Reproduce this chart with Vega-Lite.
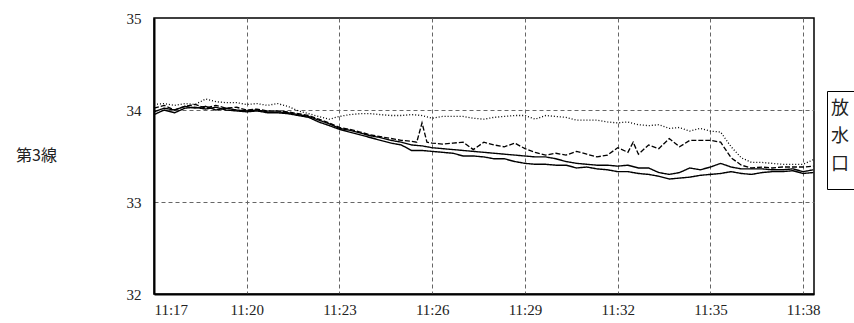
{
  "$schema": "https://vega.github.io/schema/vega-lite/v6.json",
  "width": 660,
  "height": 276,
  "autosize": {"type": "none"},
  "padding": {"left": 154, "top": 18, "right": 40, "bottom": 29},
  "background": "white",
  "config": {
    "view": {"stroke": "black", "strokeWidth": 1.5},
    "axis": {"labelFont": "Liberation Serif", "labelFontSize": 15, "labelColor": "#222", "domainColor": "black", "domainWidth": 2, "ticks": false, "gridColor": "#666", "gridDash": [4, 3], "gridWidth": 1}
  },
  "data": {
    "values": [
      {"t":17.00,"s":"a","v":34.06},{"t":17.33,"s":"a","v":34.07},{"t":17.67,"s":"a","v":34.05},{"t":18.00,"s":"a","v":34.07},{"t":18.33,"s":"a","v":34.06},{"t":18.67,"s":"a","v":34.12},{"t":19.00,"s":"a","v":34.09},{"t":19.33,"s":"a","v":34.08},{"t":19.67,"s":"a","v":34.08},{"t":20.00,"s":"a","v":34.06},{"t":20.33,"s":"a","v":34.07},{"t":20.67,"s":"a","v":34.05},{"t":21.00,"s":"a","v":34.07},{"t":21.33,"s":"a","v":34.04},{"t":21.67,"s":"a","v":33.99},{"t":22.00,"s":"a","v":33.96},{"t":22.33,"s":"a","v":33.93},{"t":22.67,"s":"a","v":33.90},{"t":23.00,"s":"a","v":33.93},{"t":23.33,"s":"a","v":33.95},{"t":23.67,"s":"a","v":33.96},{"t":24.00,"s":"a","v":33.96},{"t":24.33,"s":"a","v":33.95},{"t":24.67,"s":"a","v":33.94},{"t":25.00,"s":"a","v":33.94},{"t":25.33,"s":"a","v":33.95},{"t":25.67,"s":"a","v":33.94},{"t":26.00,"s":"a","v":33.91},{"t":26.33,"s":"a","v":33.93},{"t":26.67,"s":"a","v":33.93},{"t":27.00,"s":"a","v":33.93},{"t":27.33,"s":"a","v":33.91},{"t":27.67,"s":"a","v":33.90},{"t":28.00,"s":"a","v":33.92},{"t":28.33,"s":"a","v":33.93},{"t":28.67,"s":"a","v":33.94},{"t":29.00,"s":"a","v":33.94},{"t":29.33,"s":"a","v":33.90},{"t":29.67,"s":"a","v":33.94},{"t":30.00,"s":"a","v":33.93},{"t":30.33,"s":"a","v":33.92},{"t":30.67,"s":"a","v":33.89},{"t":31.00,"s":"a","v":33.89},{"t":31.33,"s":"a","v":33.89},{"t":31.67,"s":"a","v":33.87},{"t":32.00,"s":"a","v":33.86},{"t":32.33,"s":"a","v":33.87},{"t":32.67,"s":"a","v":33.84},{"t":33.00,"s":"a","v":33.83},{"t":33.33,"s":"a","v":33.84},{"t":33.67,"s":"a","v":33.80},{"t":34.00,"s":"a","v":33.81},{"t":34.33,"s":"a","v":33.77},{"t":34.67,"s":"a","v":33.80},{"t":35.00,"s":"a","v":33.77},{"t":35.33,"s":"a","v":33.76},{"t":35.67,"s":"a","v":33.60},{"t":36.00,"s":"a","v":33.48},{"t":36.33,"s":"a","v":33.43},{"t":36.67,"s":"a","v":33.43},{"t":37.00,"s":"a","v":33.42},{"t":37.33,"s":"a","v":33.41},{"t":37.67,"s":"a","v":33.41},{"t":38.00,"s":"a","v":33.41},{"t":38.33,"s":"a","v":33.46},
      {"t":17.00,"s":"b","v":34.02},{"t":17.33,"s":"b","v":34.05},{"t":17.67,"s":"b","v":34.00},{"t":18.00,"s":"b","v":34.04},{"t":18.33,"s":"b","v":34.06},{"t":18.67,"s":"b","v":34.02},{"t":19.00,"s":"b","v":34.05},{"t":19.33,"s":"b","v":34.02},{"t":19.67,"s":"b","v":34.03},{"t":20.00,"s":"b","v":34.00},{"t":20.33,"s":"b","v":34.01},{"t":20.67,"s":"b","v":33.99},{"t":21.00,"s":"b","v":33.99},{"t":21.33,"s":"b","v":33.98},{"t":21.67,"s":"b","v":33.96},{"t":22.00,"s":"b","v":33.94},{"t":22.33,"s":"b","v":33.90},{"t":22.67,"s":"b","v":33.86},{"t":23.00,"s":"b","v":33.81},{"t":23.33,"s":"b","v":33.79},{"t":23.67,"s":"b","v":33.76},{"t":24.00,"s":"b","v":33.73},{"t":24.33,"s":"b","v":33.71},{"t":24.67,"s":"b","v":33.69},{"t":25.00,"s":"b","v":33.67},{"t":25.33,"s":"b","v":33.66},{"t":25.50,"s":"b","v":33.65},{"t":25.67,"s":"b","v":33.86},{"t":25.83,"s":"b","v":33.65},{"t":26.00,"s":"b","v":33.64},{"t":26.33,"s":"b","v":33.63},{"t":26.67,"s":"b","v":33.64},{"t":27.00,"s":"b","v":33.65},{"t":27.33,"s":"b","v":33.57},{"t":27.67,"s":"b","v":33.65},{"t":28.00,"s":"b","v":33.62},{"t":28.33,"s":"b","v":33.60},{"t":28.67,"s":"b","v":33.64},{"t":29.00,"s":"b","v":33.58},{"t":29.33,"s":"b","v":33.54},{"t":29.67,"s":"b","v":33.51},{"t":30.00,"s":"b","v":33.53},{"t":30.33,"s":"b","v":33.51},{"t":30.67,"s":"b","v":33.55},{"t":31.00,"s":"b","v":33.52},{"t":31.33,"s":"b","v":33.49},{"t":31.67,"s":"b","v":33.51},{"t":32.00,"s":"b","v":33.59},{"t":32.33,"s":"b","v":33.54},{"t":32.50,"s":"b","v":33.65},{"t":32.67,"s":"b","v":33.52},{"t":33.00,"s":"b","v":33.62},{"t":33.33,"s":"b","v":33.58},{"t":33.67,"s":"b","v":33.69},{"t":34.00,"s":"b","v":33.60},{"t":34.33,"s":"b","v":33.67},{"t":34.67,"s":"b","v":33.67},{"t":35.00,"s":"b","v":33.67},{"t":35.33,"s":"b","v":33.65},{"t":35.67,"s":"b","v":33.48},{"t":36.00,"s":"b","v":33.40},{"t":36.33,"s":"b","v":33.37},{"t":36.67,"s":"b","v":33.38},{"t":37.00,"s":"b","v":33.37},{"t":37.33,"s":"b","v":33.38},{"t":37.67,"s":"b","v":33.38},{"t":38.00,"s":"b","v":33.38},{"t":38.33,"s":"b","v":33.39},
      {"t":17.00,"s":"c","v":33.98},{"t":17.33,"s":"c","v":34.02},{"t":17.67,"s":"c","v":34.00},{"t":18.00,"s":"c","v":34.04},{"t":18.33,"s":"c","v":34.02},{"t":18.67,"s":"c","v":34.04},{"t":19.00,"s":"c","v":34.00},{"t":19.33,"s":"c","v":34.02},{"t":19.67,"s":"c","v":34.00},{"t":20.00,"s":"c","v":33.99},{"t":20.33,"s":"c","v":34.00},{"t":20.67,"s":"c","v":33.98},{"t":21.00,"s":"c","v":33.98},{"t":21.33,"s":"c","v":33.97},{"t":21.67,"s":"c","v":33.95},{"t":22.00,"s":"c","v":33.93},{"t":22.33,"s":"c","v":33.89},{"t":22.67,"s":"c","v":33.85},{"t":23.00,"s":"c","v":33.80},{"t":23.33,"s":"c","v":33.78},{"t":23.67,"s":"c","v":33.75},{"t":24.00,"s":"c","v":33.72},{"t":24.33,"s":"c","v":33.70},{"t":24.67,"s":"c","v":33.67},{"t":25.00,"s":"c","v":33.65},{"t":25.33,"s":"c","v":33.62},{"t":25.67,"s":"c","v":33.61},{"t":26.00,"s":"c","v":33.59},{"t":26.33,"s":"c","v":33.58},{"t":26.67,"s":"c","v":33.57},{"t":27.00,"s":"c","v":33.56},{"t":27.33,"s":"c","v":33.55},{"t":27.67,"s":"c","v":33.54},{"t":28.00,"s":"c","v":33.53},{"t":28.33,"s":"c","v":33.52},{"t":28.67,"s":"c","v":33.51},{"t":29.00,"s":"c","v":33.50},{"t":29.33,"s":"c","v":33.49},{"t":29.67,"s":"c","v":33.49},{"t":30.00,"s":"c","v":33.47},{"t":30.33,"s":"c","v":33.44},{"t":30.67,"s":"c","v":33.42},{"t":31.00,"s":"c","v":33.41},{"t":31.33,"s":"c","v":33.40},{"t":31.67,"s":"c","v":33.40},{"t":32.00,"s":"c","v":33.39},{"t":32.33,"s":"c","v":33.40},{"t":32.67,"s":"c","v":33.37},{"t":33.00,"s":"c","v":33.37},{"t":33.33,"s":"c","v":33.32},{"t":33.67,"s":"c","v":33.30},{"t":34.00,"s":"c","v":33.32},{"t":34.33,"s":"c","v":33.37},{"t":34.67,"s":"c","v":33.35},{"t":35.00,"s":"c","v":33.38},{"t":35.33,"s":"c","v":33.42},{"t":35.67,"s":"c","v":33.38},{"t":36.00,"s":"c","v":33.36},{"t":36.33,"s":"c","v":33.36},{"t":36.67,"s":"c","v":33.36},{"t":37.00,"s":"c","v":33.35},{"t":37.33,"s":"c","v":33.35},{"t":37.67,"s":"c","v":33.36},{"t":38.00,"s":"c","v":33.33},{"t":38.33,"s":"c","v":33.35},
      {"t":17.00,"s":"d","v":33.95},{"t":17.33,"s":"d","v":34.00},{"t":17.67,"s":"d","v":33.97},{"t":18.00,"s":"d","v":34.02},{"t":18.33,"s":"d","v":34.03},{"t":18.67,"s":"d","v":34.01},{"t":19.00,"s":"d","v":34.03},{"t":19.33,"s":"d","v":34.00},{"t":19.67,"s":"d","v":33.99},{"t":20.00,"s":"d","v":33.98},{"t":20.33,"s":"d","v":33.99},{"t":20.67,"s":"d","v":33.97},{"t":21.00,"s":"d","v":33.97},{"t":21.33,"s":"d","v":33.96},{"t":21.67,"s":"d","v":33.94},{"t":22.00,"s":"d","v":33.92},{"t":22.33,"s":"d","v":33.87},{"t":22.67,"s":"d","v":33.83},{"t":23.00,"s":"d","v":33.79},{"t":23.33,"s":"d","v":33.76},{"t":23.67,"s":"d","v":33.73},{"t":24.00,"s":"d","v":33.70},{"t":24.33,"s":"d","v":33.67},{"t":24.67,"s":"d","v":33.64},{"t":25.00,"s":"d","v":33.62},{"t":25.33,"s":"d","v":33.56},{"t":25.67,"s":"d","v":33.56},{"t":26.00,"s":"d","v":33.55},{"t":26.33,"s":"d","v":33.54},{"t":26.67,"s":"d","v":33.53},{"t":27.00,"s":"d","v":33.50},{"t":27.33,"s":"d","v":33.50},{"t":27.67,"s":"d","v":33.49},{"t":28.00,"s":"d","v":33.47},{"t":28.33,"s":"d","v":33.47},{"t":28.67,"s":"d","v":33.44},{"t":29.00,"s":"d","v":33.42},{"t":29.33,"s":"d","v":33.41},{"t":29.67,"s":"d","v":33.41},{"t":30.00,"s":"d","v":33.40},{"t":30.33,"s":"d","v":33.40},{"t":30.67,"s":"d","v":33.37},{"t":31.00,"s":"d","v":33.38},{"t":31.33,"s":"d","v":33.36},{"t":31.67,"s":"d","v":33.35},{"t":32.00,"s":"d","v":33.33},{"t":32.33,"s":"d","v":33.33},{"t":32.67,"s":"d","v":33.31},{"t":33.00,"s":"d","v":33.30},{"t":33.33,"s":"d","v":33.28},{"t":33.67,"s":"d","v":33.25},{"t":34.00,"s":"d","v":33.26},{"t":34.33,"s":"d","v":33.27},{"t":34.67,"s":"d","v":33.29},{"t":35.00,"s":"d","v":33.30},{"t":35.33,"s":"d","v":33.31},{"t":35.67,"s":"d","v":33.33},{"t":36.00,"s":"d","v":33.31},{"t":36.33,"s":"d","v":33.30},{"t":36.67,"s":"d","v":33.32},{"t":37.00,"s":"d","v":33.33},{"t":37.33,"s":"d","v":33.33},{"t":37.67,"s":"d","v":33.34},{"t":38.00,"s":"d","v":33.31},{"t":38.33,"s":"d","v":33.32}
    ]
  },
  "mark": {"type": "line", "color": "black", "strokeJoin": "miter"},
  "encoding": {
    "x": {
      "field": "t", "type": "quantitative",
      "scale": {"domain": [17, 38.35], "nice": false, "zero": false},
      "axis": {"title": null, "values": [17, 20, 23, 26, 29, 32, 35, 38], "labelExpr": "'11:' + datum.value", "labelPadding": 8, "gridOpacity": {"condition": {"test": "datum.value == 17", "value": 0}, "value": 1}}
    },
    "y": {
      "field": "v", "type": "quantitative",
      "scale": {"domain": [32, 35], "nice": false, "zero": false},
      "axis": {"title": "第3線", "titleAngle": 0, "titleX": -118, "titleY": 137, "titleAlign": "center", "titleBaseline": "middle", "titleFont": "Noto Sans CJK JP", "titleFontSize": 16, "titleFontWeight": "normal", "titleColor": "#222", "values": [32, 33, 34, 35], "labelPadding": 13, "gridOpacity": {"condition": {"test": "datum.value == 32 || datum.value == 35", "value": 0}, "value": 1}}
    },
    "detail": {"field": "s"},
    "strokeDash": {
      "field": "s", "type": "nominal",
      "scale": {"domain": ["a", "b", "c", "d"], "range": [[1, 2], [5, 2], [1, 0], [1, 0]]},
      "legend": {"orient": "none", "legendX": 673, "legendY": 73, "title": ["放", "水", "口"], "titleFont": "Noto Sans CJK JP", "titleFontSize": 18, "titleFontWeight": "normal", "titleLineHeight": 28, "titleBaseline": "line-top", "titleColor": "#222", "strokeColor": "black", "fillColor": "white", "padding": 4, "labelExpr": "' '", "labelFontSize": 14, "labelColor": "white", "symbolOpacity": 0, "symbolSize": 0, "symbolStrokeWidth": 0, "direction": "horizontal", "columnPadding": 12, "titlePadding": 2}
    },
    "strokeWidth": {
      "field": "s", "type": "nominal",
      "scale": {"domain": ["a", "b", "c", "d"], "range": [1.3, 1.4, 1, 2]},
      "legend": null
    }
  }
}
